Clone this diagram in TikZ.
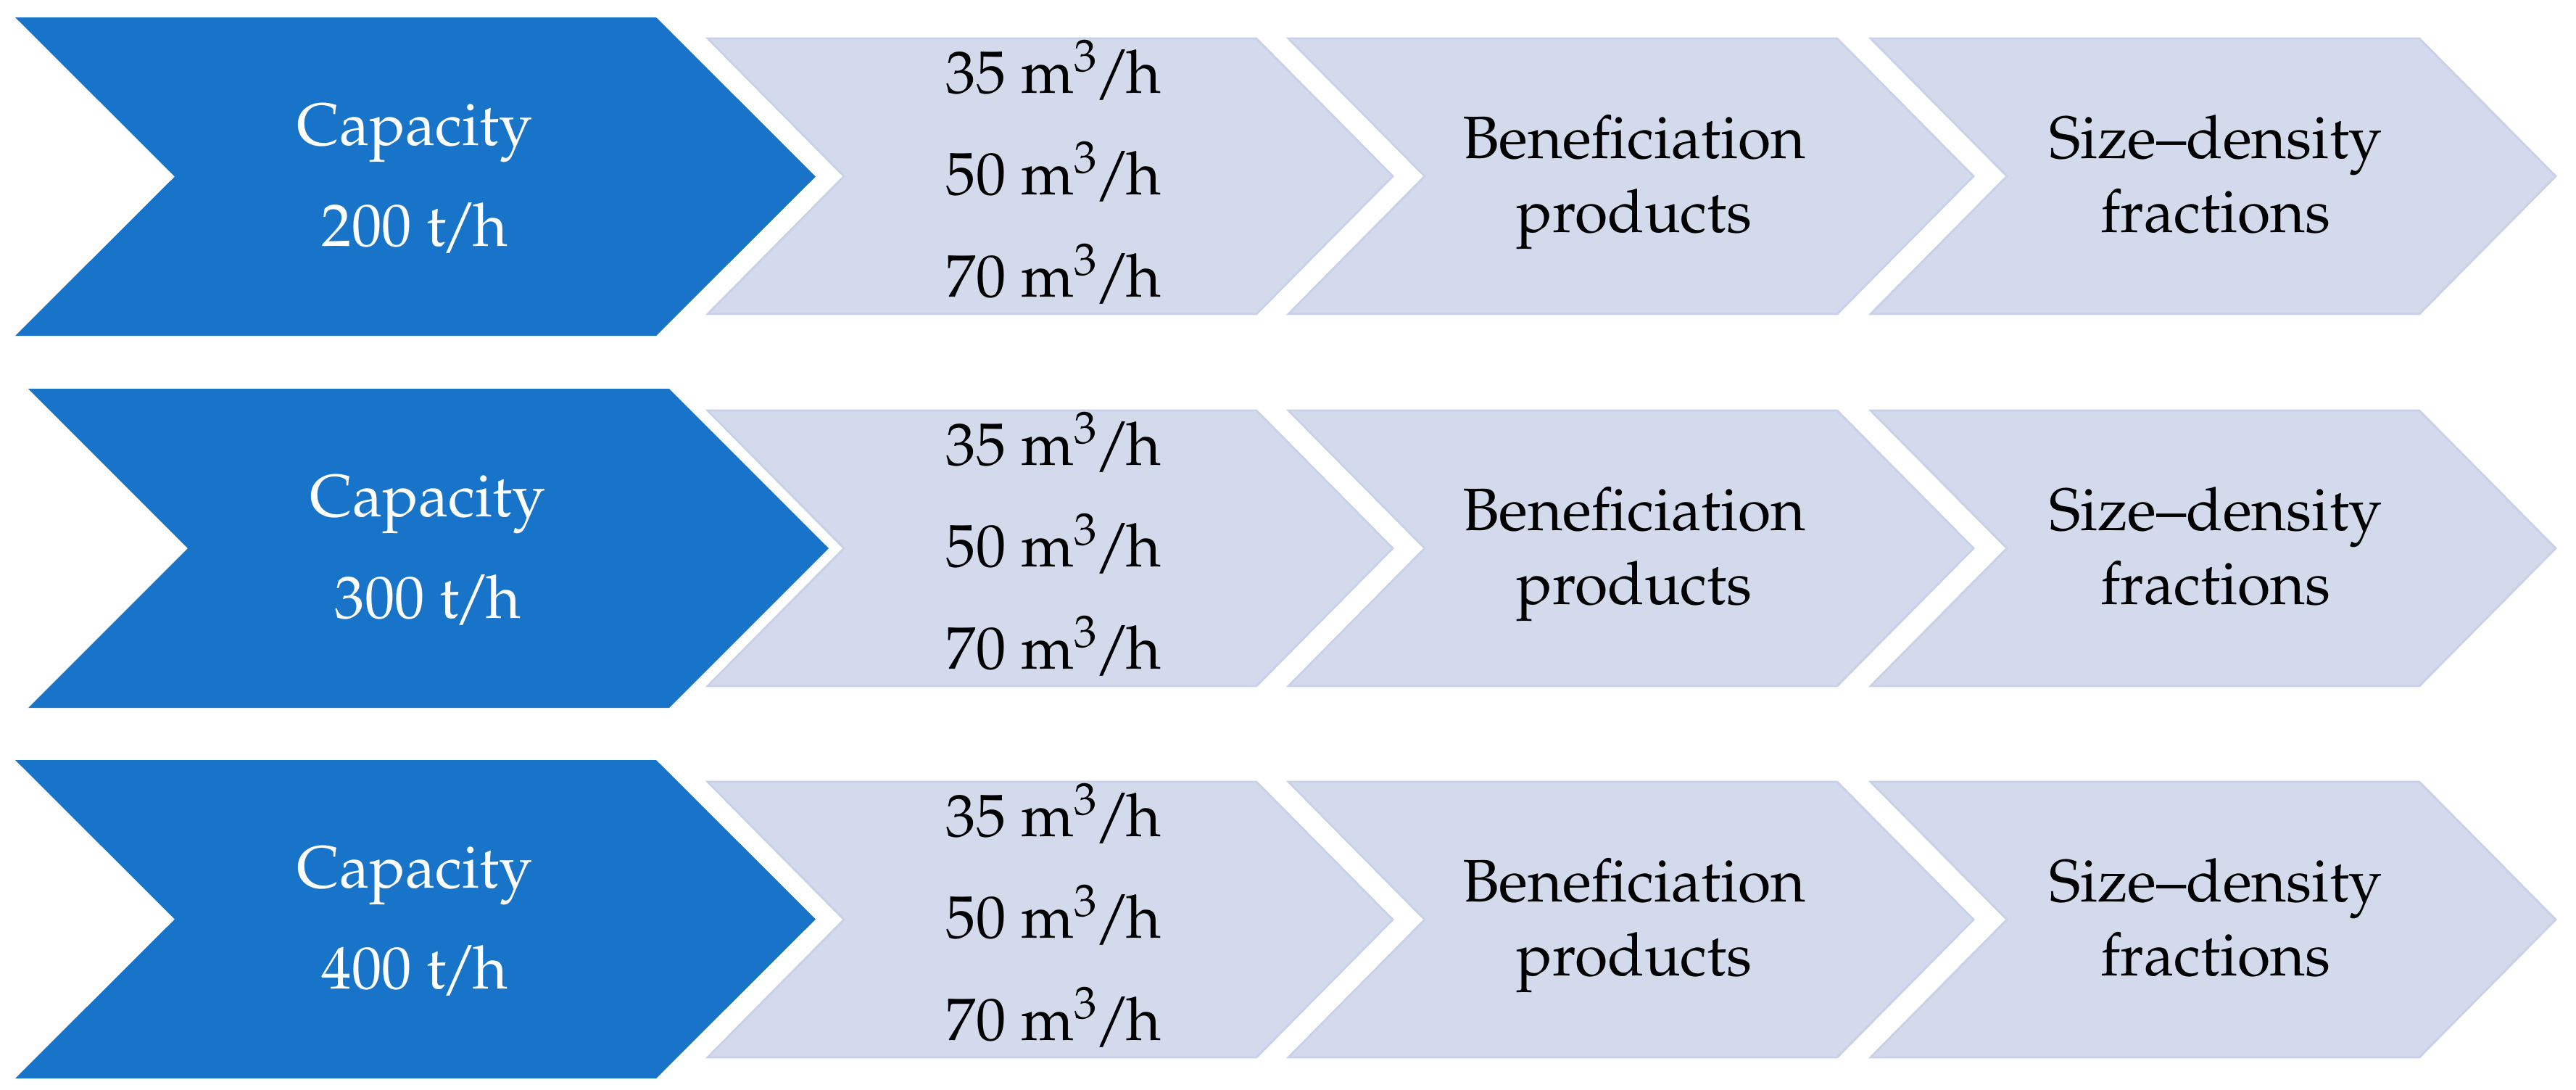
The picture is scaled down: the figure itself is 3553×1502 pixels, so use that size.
\documentclass[tikz,border=0pt]{standalone}
\usepackage[T1]{fontenc}
\usepackage{mathpazo}
\definecolor{capblue}{RGB}{24,116,200}
\definecolor{stepfill}{RGB}{211,218,236}
\definecolor{stepline}{RGB}{200,209,232}
\newcommand{\chevshape}[6]{% #1 style, #2 left x, #3 top y, #4 bottom y, #5 top-right x, #6 depth
  \path[#1] (#2,#3) -- (#5,#3) -- ({#5+#6},{(#3+#4)/2}) -- (#5,#4) -- (#2,#4) -- ({#2+#6},{(#3+#4)/2}) -- cycle;}
\newcommand{\tperh}{t\kern-0.08em/\kern-0.08em h}
\newcommand{\mcubh}{m\textsuperscript{3}\kern-0.06em/\kern-0.08em h}
\begin{document}
\begin{tikzpicture}[x=0.01cm,y=-0.01cm,
  capbox/.style={fill=capblue},
  stepbox/.style={fill=stepfill,draw=stepline,line width=0.8pt,line join=miter},
  whitetxt/.style={text=white,font=\fontsize{23.5}{28}\selectfont,anchor=base,inner sep=0pt},
  darktxt/.style={text=black,font=\fontsize{23.5}{28}\selectfont,anchor=base,inner sep=0pt}]
\useasboundingbox[fill=white] (0,0) rectangle (3553,1502);

% ---------- row 1 ----------
\chevshape{capbox}{21}{24}{463}{905}{220}
\node[whitetxt] (cap1) at (572,200) {Capacity};
\node[whitetxt] (val1) at (572,339) {200 \tperh};
\chevshape{stepbox}{976}{53}{433}{1733}{188}
\node[darktxt] (r1a) at (1453,128) {35 \mcubh};
\node[darktxt] (r1b) at (1453,268) {50 \mcubh};
\node[darktxt] (r1c) at (1453,409) {70 \mcubh};
\chevshape{stepbox}{1777}{53}{433}{2534}{188}
\node[darktxt] (ben1a) at (2254,218) {Beneficiation};
\node[darktxt] (ben1b) at (2254,320) {products};
\chevshape{stepbox}{2580}{53}{433}{3337}{188}
\node[darktxt] (sd1a) at (3056,218) {Size--density};
\node[darktxt] (sd1b) at (3056,320) {fractions};

% ---------- row 2 ----------
\chevshape{capbox}{39}{536}{976}{923}{220}
\node[whitetxt] (cap2) at (590,712) {Capacity};
\node[whitetxt] (val2) at (590,852) {300 \tperh};
\chevshape{stepbox}{976}{566}{946}{1733}{188}
\node[darktxt] (r2a) at (1453,641) {35 \mcubh};
\node[darktxt] (r2b) at (1453,781) {50 \mcubh};
\node[darktxt] (r2c) at (1453,922) {70 \mcubh};
\chevshape{stepbox}{1777}{566}{946}{2534}{188}
\node[darktxt] (ben2a) at (2254,731) {Beneficiation};
\node[darktxt] (ben2b) at (2254,833) {products};
\chevshape{stepbox}{2580}{566}{946}{3337}{188}
\node[darktxt] (sd2a) at (3056,731) {Size--density};
\node[darktxt] (sd2b) at (3056,833) {fractions};

% ---------- row 3 ----------
\chevshape{capbox}{21}{1048}{1487}{905}{220}
\node[whitetxt] (cap3) at (572,1224) {Capacity};
\node[whitetxt] (val3) at (572,1363) {400 \tperh};
\chevshape{stepbox}{976}{1078}{1458}{1733}{188}
\node[darktxt] (r3a) at (1453,1153) {35 \mcubh};
\node[darktxt] (r3b) at (1453,1293) {50 \mcubh};
\node[darktxt] (r3c) at (1453,1434) {70 \mcubh};
\chevshape{stepbox}{1777}{1078}{1458}{2534}{188}
\node[darktxt] (ben3a) at (2254,1243) {Beneficiation};
\node[darktxt] (ben3b) at (2254,1345) {products};
\chevshape{stepbox}{2580}{1078}{1458}{3337}{188}
\node[darktxt] (sd3a) at (3056,1243) {Size--density};
\node[darktxt] (sd3b) at (3056,1345) {fractions};
\end{tikzpicture}
\end{document}
